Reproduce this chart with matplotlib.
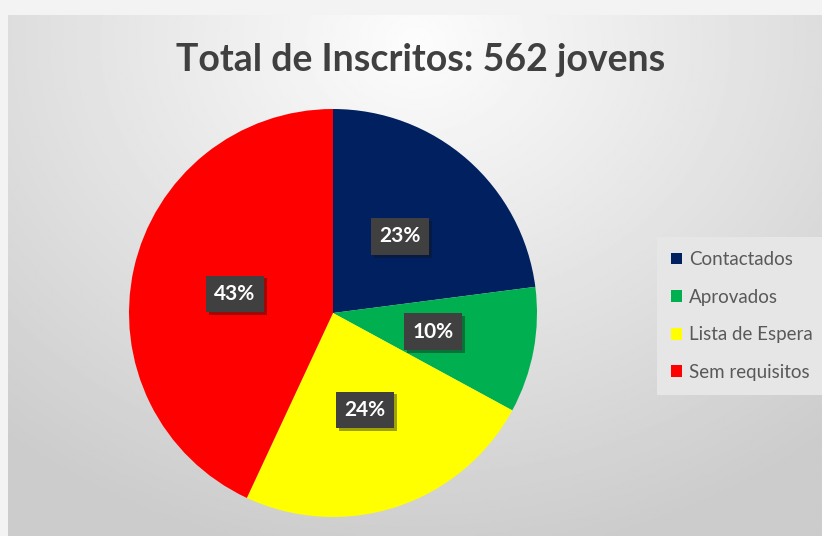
import numpy as np
import matplotlib.pyplot as plt
import matplotlib.patheffects as pe

# ===============================
# Data
# ===============================
categories = ["Contactados", "Aprovados", "Lista de Espera", "Sem requisitos"]
counts = [129, 56, 135, 242]
colors = ["#002060", "#00b050", "#ffff00", "#ff0000"]
title = "Total de Inscritos: 562 jovens"

plt.rcParams['font.family'] = ['Lato', 'DejaVu Sans']

W, H = 822, 536
fig = plt.figure(figsize=(W / 100, H / 100), dpi=100)
fig.patch.set_facecolor("#f3f3f3")

# ===============================
# Panel with grey radial gradient
# ===============================
bg = fig.add_axes([8 / W, 0, 1 - 8 / W, (H - 15) / H])
yy, xx = np.mgrid[0:1:300j, 0:1:500j]
dist = np.sqrt(((xx - 0.5) * 1.3) ** 2 + (yy - 0.05) ** 2)
shade = 0.99 - 0.19 * np.clip(dist / 1.0, 0, 1)
bg.imshow(shade, cmap="gray", vmin=0, vmax=1, aspect="auto", extent=[0, 1, 1, 0])
bg.set_axis_off()

fig.text(421 / W, 1 - 60 / H, title, ha="center", va="center",
         fontsize=27, fontweight="bold", color="#404040")

# ===============================
# Pie
# ===============================
ax = fig.add_axes([129 / W, 19 / H, 408 / W, 408 / H])
wedges, texts, autotexts = ax.pie(
    counts, colors=colors, startangle=90, counterclock=False,
    autopct=lambda p: f"{p:.0f}%", pctdistance=0.5,
    wedgeprops=dict(linewidth=0),
)
ax.set_xlim(-1, 1)
ax.set_ylim(-1, 1)
ax.set_aspect("equal")

# Excel best-fit moved the big label towards the left
a = np.deg2rad(169)
autotexts[3].set_position((0.49 * np.cos(a), 0.49 * np.sin(a)))

for t in autotexts:
    t.set_color("white")
    t.set_fontsize(15)
    t.set_fontweight("bold")
    t.set_bbox(dict(boxstyle="square,pad=0.4", fc="#404040", ec="none"))
    t.get_bbox_patch().set_path_effects(
        [pe.SimplePatchShadow(offset=(2, -2), alpha=0.4), pe.Normal()])

# ===============================
# Legend
# ===============================
leg = fig.legend(wedges, categories, loc="upper left",
                 bbox_to_anchor=(657 / W, 1 - 237 / H), borderaxespad=0,
                 fontsize=13.5, frameon=True, facecolor="#e6e6e6", edgecolor="none",
                 fancybox=False, framealpha=1, handlelength=0.6, handleheight=0.6,
                 handletextpad=0.35, labelspacing=1.1, borderpad=0.75)
for t in leg.get_texts():
    t.set_color("#595959")

fig.savefig("out.png", dpi=100, facecolor=fig.get_facecolor())
